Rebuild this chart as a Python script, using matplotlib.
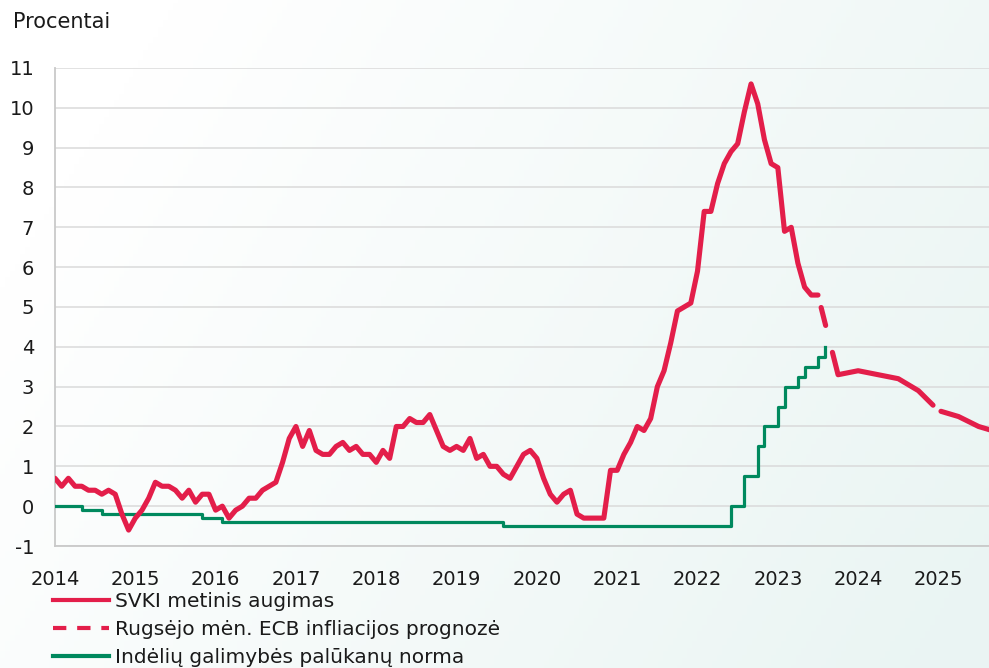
import numpy as np
import matplotlib
matplotlib.use("Agg")
import matplotlib.pyplot as plt
from matplotlib.lines import Line2D

plt.rcParams['font.family'] = ['DejaVu Sans']
plt.rcParams['axes.unicode_minus'] = False

# ---------------- data ----------------
# HICP annual growth, monthly, Feb 2014 .. Aug 2023
hicp_start = (2014, 2)
hicp_values = [
    0.7, 0.5, 0.7, 0.5, 0.5, 0.4, 0.4, 0.3, 0.4, 0.3, -0.2,          # 2014 Feb-Dec
    -0.6, -0.3, -0.1, 0.2, 0.6, 0.5, 0.5, 0.4, 0.2, 0.4, 0.1, 0.3,   # 2015
    0.3, -0.1, 0.0, -0.3, -0.1, 0.0, 0.2, 0.2, 0.4, 0.5, 0.6, 1.1,   # 2016
    1.7, 2.0, 1.5, 1.9, 1.4, 1.3, 1.3, 1.5, 1.6, 1.4, 1.5, 1.3,      # 2017
    1.3, 1.1, 1.4, 1.2, 2.0, 2.0, 2.2, 2.1, 2.1, 2.3, 1.9, 1.5,      # 2018
    1.4, 1.5, 1.4, 1.7, 1.2, 1.3, 1.0, 1.0, 0.8, 0.7, 1.0, 1.3,      # 2019
    1.4, 1.2, 0.7, 0.3, 0.1, 0.3, 0.4, -0.2, -0.3, -0.3, -0.3, -0.3, # 2020
    0.9, 0.9, 1.3, 1.6, 2.0, 1.9, 2.2, 3.0, 3.4, 4.1, 4.9, 5.0,      # 2021
    5.1, 5.9, 7.4, 7.4, 8.1, 8.6, 8.9, 9.1, 9.9, 10.6, 10.1, 9.2,    # 2022
    8.6, 8.5, 6.9, 7.0, 6.1, 5.5, 5.3, 5.3,                          # 2023 Jan-Aug
]

# September ECB staff inflation projection
proj_months = [(2023, 8), (2023, 11), (2024, 2), (2024, 5), (2024, 8),
               (2024, 11), (2025, 2), (2025, 5), (2025, 8), (2025, 11)]
proj_values = [5.3, 3.3, 3.4, 3.3, 3.2, 2.9, 2.4, 2.25, 2.0, 1.85]

# Deposit facility rate: month of change and new rate
dfr_months = [(2014, 2), (2014, 6), (2014, 9), (2015, 12), (2016, 3), (2019, 9),
              (2022, 7), (2022, 9), (2022, 11), (2022, 12), (2023, 2), (2023, 3),
              (2023, 5), (2023, 6), (2023, 8), (2023, 9)]
dfr_values = [0.0, -0.1, -0.2, -0.3, -0.4, -0.5, 0.0, 0.75, 1.5, 2.0, 2.5, 3.0,
              3.25, 3.5, 3.75, 4.0]

year_ticks = list(range(2014, 2026))
y_ticks = list(range(-1, 12))

labels = ["SVKI metinis augimas",
          "Rugsėjo mėn. ECB infliacijos prognozė",
          "Indėlių galimybės palūkanų norma"]
ylabel_text = "Procentai"

RED = "#E31E4A"
GREEN = "#00895E"


def pos(y, m):
    # monthly observations; February sits on the year tick
    return y + (m - 2) / 12.0


hicp_x = hicp_start[0] + np.arange(len(hicp_values)) / 12.0
proj_x = [pos(y, m) for y, m in proj_months]
dfr_x = [pos(y, m) for y, m in dfr_months]

# ---------------- figure ----------------
W, H = 989, 668
fig = plt.figure(figsize=(W / 100, H / 100), dpi=100)

# soft background gradient
bg = fig.add_axes([0, 0, 1, 1], zorder=-10)
gx, gy = np.meshgrid(np.linspace(0, 1, 200), np.linspace(0, 1, 200))
t = np.clip(0.85 * gx + 0.35 * gy - 0.15, 0, 1)
c0 = np.array([1.0, 1.0, 1.0])
c1 = np.array([0.918, 0.960, 0.953])
img = c0[None, None, :] * (1 - t[..., None]) + c1[None, None, :] * t[..., None]
bg.imshow(img, extent=[0, 1, 0, 1], aspect='auto', origin='upper')
bg.set_axis_off()

ax = fig.add_axes([55 / W, 1 - 546 / H, (W - 55) / W, (546 - 68) / H])
ax.set_facecolor('none')

ax.plot(hicp_x, hicp_values, color=RED, lw=3.7, solid_joinstyle='round',
        solid_capstyle='round', zorder=4)
ax.plot(proj_x, proj_values, color=RED, lw=3.7,
        linestyle=(66, (3.6, 5.4, 25, 2.0, 30, 2.5)),
        dash_capstyle='round', dash_joinstyle='round', zorder=4)
ax.step(dfr_x, dfr_values, where='post', color=GREEN, lw=2.3, zorder=3)

ax.set_xlim(2014.0, 2014 + (W - 54) / 80.4)
ax.set_ylim(-1, 11)
ax.set_yticks(y_ticks)
ax.set_yticklabels([str(v) for v in y_ticks])
ax.set_xticks(year_ticks)
ax.set_xticklabels([str(v) for v in year_ticks])
ax.tick_params(axis='both', length=0, labelsize=14, colors='#1a1a1a')
ax.tick_params(axis='y', pad=15)
ax.tick_params(axis='x', pad=17)
for lab in ax.get_yticklabels():
    lab.set_horizontalalignment('right')

ax.grid(axis='y', color='#DADADA', lw=1.1)
ax.set_axisbelow(True)
for s in ['top', 'right']:
    ax.spines[s].set_visible(False)
for s in ['left', 'bottom']:
    ax.spines[s].set_color('#C9C9C9')
    ax.spines[s].set_linewidth(1.3)

fig.text(13 / W, 1 - 22 / H, ylabel_text, fontsize=15, color='#1a1a1a',
         ha='left', va='center')

handles = [Line2D([], [], color=RED, lw=3.0),
           Line2D([], [], color=RED, lw=3.0, linestyle=(0, (3.2, 2.6))),
           Line2D([], [], color=GREEN, lw=3.0)]
fig.legend(handles, labels, loc='upper left', bbox_to_anchor=(53 / W, 1 - 592 / H),
           frameon=False, fontsize=14.5, handlelength=2.8, handletextpad=0.3,
           labelspacing=0.44, borderpad=0, borderaxespad=0, labelcolor='#1a1a1a')

fig.savefig("out.png", dpi=100)
